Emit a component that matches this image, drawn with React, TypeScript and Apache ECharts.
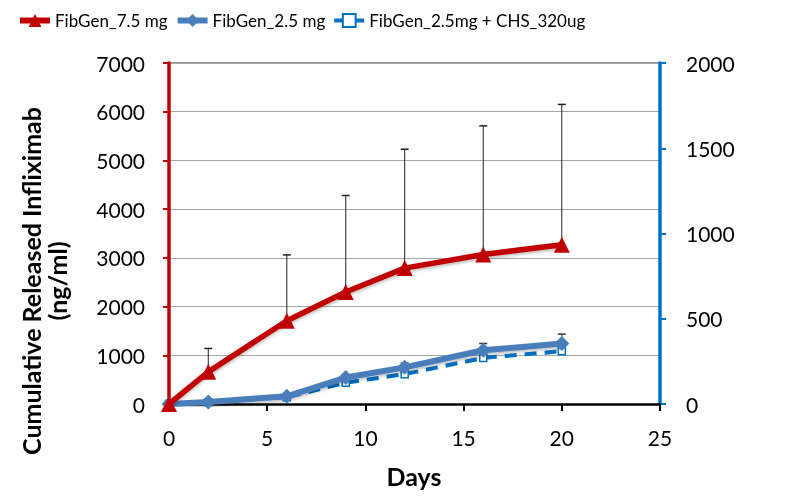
import React, { useEffect, useRef } from "react";
import * as echarts from "echarts";

const days = [0, 2, 6, 9, 12, 16, 20];
const fib75 = [0, 660, 1710, 2300, 2790, 3070, 3270];
const fib75Err = [0, 480, 1350, 1980, 2440, 2640, 2880];
const fib25 = [0, 12, 45, 155, 215, 315, 355];
const fib25Err = [0, 5, 10, 15, 25, 40, 55];
const chs = [0, 10, 40, 125, 175, 270, 310];
const chsErr = [0, 3, 8, 12, 15, 20, 20];
const names = ["FibGen_7.5 mg", "FibGen_2.5 mg", "FibGen_2.5mg + CHS_320ug"];
const yTitle = "Cumulative Released Infliximab\n(ng/ml)";
const xTitle = "Days";

const FONT = "Lato";

function errSeries(vals: number[], errs: number[], yIdx: number, color: string) {
  return {
    type: "custom",
    yAxisIndex: yIdx,
    z: 1,
    silent: true,
    data: days.map((d, i) => [d, vals[i], vals[i] + errs[i]]),
    renderItem: (params: any, api: any) => {
      const x = api.value(0);
      const lo = api.coord([x, api.value(1)]);
      const hi = api.coord([x, api.value(2)]);
      const w = 4;
      return {
        type: "group",
        children: [
          { type: "line", shape: { x1: lo[0], y1: lo[1], x2: hi[0], y2: hi[1] }, style: { stroke: color, lineWidth: 1 } },
          { type: "line", shape: { x1: hi[0] - w, y1: hi[1], x2: hi[0] + w, y2: hi[1] }, style: { stroke: color, lineWidth: 1.5 } },
        ],
      };
    },
  };
}

export default function App() {
  const ref = useRef<HTMLDivElement>(null);
  useEffect(() => {
    const chart = echarts.init(ref.current!, null, { renderer: "svg" });
    const shadow = { shadowColor: "rgba(0,0,0,0.25)", shadowBlur: 3, shadowOffsetY: 2 };
    const fmt = (v: number) => String(v);
    chart.setOption({
      animation: false,
      textStyle: { fontFamily: FONT },
      legend: {
        left: 12,
        top: 7,
        itemGap: 7,
        itemWidth: 30,
        itemHeight: 16,
        textStyle: { fontFamily: FONT, fontSize: 17, color: "#000" },
        data: [
          { name: names[0], lineStyle: { width: 6 } },
          { name: names[1], lineStyle: { width: 6 } },
          { name: names[2], lineStyle: { width: 4 } },
        ],
      },
      grid: { left: 169, right: 140, top: 63, bottom: 92 },
      xAxis: {
        type: "value",
        min: 0,
        max: 25,
        interval: 5,
        axisLine: { show: true, onZero: false, lineStyle: { color: "#000", width: 2.5 } },
        axisTick: { show: true, length: 7, lineStyle: { color: "#000", width: 2 } },
        axisLabel: { fontSize: 21, color: "#000", margin: 23, fontFamily: FONT, formatter: fmt },
        splitLine: { show: false },
      },
      yAxis: [
        {
          type: "value",
          min: 0,
          max: 7000,
          interval: 1000,
          position: "left",
          axisLine: { show: true, lineStyle: { color: "#C00000", width: 3.5 } },
          axisTick: { show: true, length: 6, lineStyle: { color: "#C00000", width: 2 } },
          axisLabel: { fontSize: 21, color: "#000", margin: 24, fontFamily: FONT, formatter: fmt },
          splitLine: { show: true, lineStyle: { color: "#A6A6A6", width: 1 } },
        },
        {
          type: "value",
          min: 0,
          max: 2000,
          interval: 500,
          position: "right",
          axisLine: { show: true, lineStyle: { color: "#0070C0", width: 3.5 } },
          axisTick: { show: true, length: 6, lineStyle: { color: "#0070C0", width: 2 } },
          axisLabel: { fontSize: 21, color: "#000", margin: 26, fontFamily: FONT, formatter: fmt },
          splitLine: { show: false },
        },
      ],
      graphic: [
        { type: "line", shape: { x1: 169, y1: 63, x2: 660, y2: 63 }, style: { stroke: "#222", lineWidth: 1 }, z: 0 },
        {
          type: "text",
          x: 44,
          y: 281,
          rotation: Math.PI / 2,
          style: {
            text: yTitle,
            fontFamily: FONT,
            fontSize: 25,
            fontWeight: "bold",
            fill: "#000",
            align: "center",
            verticalAlign: "middle",
            lineHeight: 26,
          },
        },
        {
          type: "text",
          x: 414,
          y: 476,
          style: {
            text: xTitle,
            fontFamily: FONT,
            fontSize: 25,
            fontWeight: "bold",
            fill: "#000",
            align: "center",
            verticalAlign: "middle",
          },
        },
      ],
      series: [
        errSeries(fib75, fib75Err, 0, "#222"),
        errSeries(fib25, fib25Err, 1, "#333"),
        errSeries(chs, chsErr, 1, "#333"),
        {
          name: names[0],
          type: "line",
          yAxisIndex: 0,
          data: days.map((d, i) => [d, fib75[i]]),
          symbol: "triangle",
          symbolSize: 16,
          itemStyle: { color: "#C00000" },
          lineStyle: { color: "#C00000", width: 5.5, ...shadow },
          z: 5,
        },
        {
          name: names[1],
          type: "line",
          yAxisIndex: 1,
          data: days.map((d, i) => [d, fib25[i]]),
          symbol: "diamond",
          symbolSize: 15,
          itemStyle: { color: "#4A7EBB" },
          lineStyle: { color: "#4A7EBB", width: 6, ...shadow },
          z: 4,
        },
        {
          name: names[2],
          type: "line",
          yAxisIndex: 1,
          data: days.map((d, i) => [d, chs[i]]),
          symbol: "rect",
          symbolSize: 7,
          itemStyle: { color: "#fff", borderColor: "#0070C0", borderWidth: 1.5 },
          lineStyle: { color: "#0070C0", width: 4, type: [12, 8] },
          z: 3,
        },
      ],
    });
    return () => chart.dispose();
  }, []);
  return <div ref={ref} style={{ position: "fixed", left: 0, top: 0, width: 800, height: 496 }} />;
}
